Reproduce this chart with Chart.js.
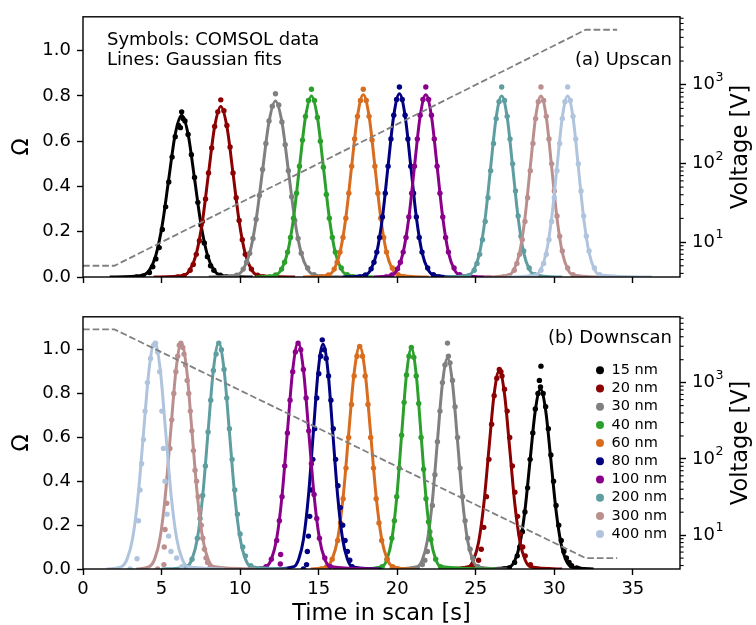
<!DOCTYPE html>
<html>
<head>
<meta charset="utf-8">
<title>Upscan / Downscan</title>
<script src="https://cdn.jsdelivr.net/npm/chart.js@4.4.1/dist/chart.umd.min.js"></script>
<style>
  html, body { margin: 0; padding: 0; background: #fff; }
  #fig { position: relative; width: 756px; height: 625px; }
  #fig canvas { position: absolute; left: 0; }
</style>
</head>
<body>
<div id="fig">
  <canvas id="upscan" width="756" height="300" style="top:0"></canvas>
  <canvas id="downscan" width="756" height="325" style="top:300px"></canvas>
</div>
<script>
// particle sizes and their colours
var sizes = ['15 nm', '20 nm', '30 nm', '40 nm', '60 nm', '80 nm', '100 nm', '200 nm', '300 nm', '400 nm'];
var colors = ['#000000', '#8b0000', '#808080', '#2ca02c', '#d96d1f', '#000080', '#8b008b', '#5f9ea0', '#bc8f8f', '#b0c4de'];

// tick values
var timeTicks = [0, 5, 10, 15, 20, 25, 30, 35];
var omegaTicks = [0, 0.2, 0.4, 0.6, 0.8, 1.0];
var voltTicks = [10, 100, 1000];
var voltExp = ['1', '2', '3'];
var voltMinor = [4, 5, 6, 7, 8, 9, 20, 30, 40, 50, 60, 70, 80, 90, 200, 300, 400, 500, 600, 700, 800, 900,
                 2000, 3000, 4000, 5000, 6000, 7000];

// voltage ramp (right axis)
var scanT = [0, 2, 32, 34];
var upVolt = [5, 5, 5000, 5000];
var downVolt = [5000, 5000, 5, 5];

// Gaussian fit lines, upscan (time / omega)
var upFitT = [
  [1.7, 3.82, 4.23, 4.64, 5.05, 5.46, 5.87, 6.28, 6.69, 7.1, 7.51, 7.92, 8.33, 8.74, 10.8],
  [4.5, 6.43, 6.82, 7.21, 7.6, 7.99, 8.38, 8.77, 9.16, 9.55, 9.94, 10.33, 10.72, 11.11, 13.5],
  [8, 9.79, 10.2, 10.61, 11.02, 11.43, 11.84, 12.25, 12.66, 13.07, 13.48, 13.89, 14.3, 14.71, 16.5],
  [11, 12.26, 12.64, 13.02, 13.4, 13.78, 14.16, 14.54, 14.92, 15.3, 15.68, 16.06, 16.44, 16.82, 18.5],
  [14, 15.62, 15.99, 16.36, 16.73, 17.1, 17.47, 17.84, 18.21, 18.58, 18.95, 19.32, 19.69, 20.06, 22],
  [16.5, 17.98, 18.34, 18.7, 19.06, 19.42, 19.78, 20.14, 20.5, 20.86, 21.22, 21.58, 21.94, 22.3, 24],
  [18.5, 19.66, 20.02, 20.38, 20.74, 21.1, 21.46, 21.82, 22.18, 22.54, 22.9, 23.26, 23.62, 23.98, 26],
  [23, 24.55, 24.9, 25.25, 25.6, 25.95, 26.3, 26.65, 27.0, 27.35, 27.7, 28.05, 28.4, 28.75, 30.5],
  [25.5, 27.11, 27.45, 27.79, 28.13, 28.47, 28.81, 29.15, 29.49, 29.83, 30.17, 30.51, 30.85, 31.19, 33],
  [27, 28.81, 29.15, 29.49, 29.83, 30.17, 30.51, 30.85, 31.19, 31.53, 31.87, 32.21, 32.55, 32.89, 36.2]
];
var upFitY = [
  [0, .008, .031, .097, .232, .434, .631, .715, .631, .434, .232, .097, .031, .008, 0],
  [0, .008, .033, .102, .245, .458, .665, .754, .665, .458, .245, .102, .033, .008, 0],
  [0, .009, .034, .105, .253, .472, .686, .778, .686, .472, .253, .105, .034, .009, 0],
  [0, .009, .035, .108, .26, .486, .706, .80, .706, .486, .26, .108, .035, .009, 0],
  [0, .009, .035, .109, .262, .489, .71, .805, .71, .489, .262, .109, .035, .009, 0],
  [0, .009, .036, .109, .263, .492, .714, .81, .714, .492, .263, .109, .036, .009, 0],
  [0, .009, .035, .109, .262, .489, .71, .805, .71, .489, .262, .109, .035, .009, 0],
  [0, .009, .035, .108, .26, .486, .706, .80, .706, .486, .26, .108, .035, .009, 0],
  [0, .009, .035, .108, .26, .486, .706, .80, .706, .486, .26, .108, .035, .009, 0],
  [0, .009, .035, .108, .26, .486, .706, .80, .706, .486, .26, .108, .035, .009, 0]
];

// COMSOL data symbols, upscan [time, omega]
var upDots = [
  [[3.41,0],[3.82,.005],[4.23,.02],[4.44,.045],[4.64,.08],[4.85,.13],[5.05,.21],[5.26,.31],[5.46,.42],[5.67,.53],[5.87,.62],[6.08,.67],[6.2,.66],[6.28,.73],[6.36,.70],[6.49,.69],[6.69,.63],[6.9,.54],[7.1,.44],[7.31,.33],[7.51,.23],[7.72,.15],[7.92,.09],[8.12,.05],[8.33,.03],[8.74,.008],[9.15,0]],
  [[6.04,0],[6.43,.006],[6.82,.03],[7.02,.055],[7.21,.1],[7.41,.16],[7.6,.245],[7.8,.345],[7.99,.46],[8.19,.57],[8.38,.665],[8.58,.73],[8.77,.783],[8.97,.735],[9.16,.67],[9.36,.575],[9.55,.46],[9.75,.35],[9.94,.25],[10.14,.165],[10.33,.1],[10.72,.035],[11.11,.008],[11.5,0]],
  [[9.38,0],[9.79,.008],[10.2,.035],[10.41,.065],[10.61,.105],[10.82,.17],[11.02,.255],[11.23,.36],[11.43,.475],[11.64,.59],[11.84,.69],[12.05,.755],[12.25,.81],[12.46,.76],[12.66,.685],[12.87,.585],[13.07,.47],[13.28,.355],[13.48,.25],[13.69,.17],[13.89,.105],[14.3,.04],[14.71,.01],[15.12,0]],
  [[11.88,0],[12.26,.009],[12.64,.035],[12.83,.065],[13.02,.11],[13.21,.175],[13.4,.26],[13.59,.37],[13.78,.49],[13.97,.605],[14.16,.71],[14.35,.78],[14.54,.83],[14.73,.78],[14.92,.705],[15.11,.6],[15.3,.485],[15.49,.365],[15.68,.26],[15.87,.175],[16.06,.11],[16.44,.04],[16.82,.01],[17.2,0]],
  [[15.25,0],[15.62,.009],[15.99,.035],[16.18,.065],[16.36,.11],[16.55,.175],[16.73,.26],[16.92,.37],[17.1,.49],[17.29,.61],[17.47,.71],[17.66,.78],[17.84,.83],[18.03,.78],[18.21,.71],[18.4,.605],[18.58,.49],[18.77,.37],[18.95,.26],[19.14,.175],[19.32,.11],[19.69,.04],[20.06,.01],[20.43,0]],
  [[17.62,0],[17.98,.009],[18.34,.036],[18.52,.065],[18.7,.11],[18.88,.175],[19.06,.265],[19.24,.37],[19.42,.49],[19.6,.61],[19.78,.715],[19.96,.785],[20.14,.84],[20.32,.785],[20.5,.715],[20.68,.61],[20.86,.49],[21.04,.37],[21.22,.265],[21.4,.175],[21.58,.11],[21.94,.04],[22.3,.01],[22.66,0]],
  [[19.3,0],[19.66,.009],[20.02,.036],[20.2,.065],[20.38,.11],[20.56,.175],[20.74,.265],[20.92,.37],[21.1,.49],[21.28,.61],[21.46,.715],[21.64,.785],[21.82,.84],[22.0,.785],[22.18,.715],[22.36,.61],[22.54,.49],[22.72,.37],[22.9,.265],[23.08,.175],[23.26,.11],[23.62,.04],[23.98,.01],[24.34,0]],
  [[24.2,0],[24.55,.006],[24.9,.03],[25.08,.06],[25.25,.1],[25.43,.165],[25.6,.245],[25.78,.35],[25.95,.47],[26.13,.59],[26.3,.7],[26.48,.775],[26.65,.84],[26.83,.78],[27.0,.71],[27.18,.61],[27.35,.5],[27.53,.38],[27.7,.27],[27.88,.18],[28.05,.115],[28.4,.04],[28.75,.01],[29.1,0]],
  [[26.77,0],[27.11,.006],[27.45,.03],[27.62,.06],[27.79,.1],[27.96,.165],[28.13,.245],[28.3,.35],[28.47,.47],[28.64,.59],[28.81,.7],[28.98,.775],[29.15,.84],[29.32,.78],[29.49,.71],[29.66,.61],[29.83,.5],[30.0,.38],[30.17,.27],[30.34,.18],[30.51,.115],[30.85,.04],[31.19,.01],[31.53,0]],
  [[28.47,0],[28.81,.006],[29.15,.03],[29.32,.06],[29.49,.1],[29.66,.165],[29.83,.245],[30.0,.35],[30.17,.47],[30.34,.59],[30.51,.7],[30.68,.775],[30.85,.84],[31.02,.78],[31.19,.71],[31.36,.61],[31.53,.5],[31.7,.38],[31.87,.27],[32.04,.18],[32.21,.115],[32.55,.04],[32.89,.01],[33.23,0]]
];

// Gaussian fit lines, downscan
var downFitT = [
  [25.5, 27.14, 27.47, 27.8, 28.13, 28.46, 28.79, 29.12, 29.45, 29.78, 30.11, 30.44, 30.77, 31.1, 32.5],
  [23, 24.52, 24.85, 25.18, 25.51, 25.84, 26.17, 26.5, 26.83, 27.16, 27.49, 27.82, 28.15, 28.48, 30.5],
  [19.5, 21.28, 21.6, 21.92, 22.24, 22.56, 22.88, 23.2, 23.52, 23.84, 24.16, 24.48, 24.8, 25.12, 27],
  [17.5, 19.04, 19.35, 19.66, 19.97, 20.28, 20.59, 20.9, 21.21, 21.52, 21.83, 22.14, 22.45, 22.76, 26.3],
  [14.5, 15.51, 15.86, 16.21, 16.56, 16.91, 17.26, 17.61, 17.96, 18.31, 18.66, 19.01, 19.36, 19.71, 21],
  [12, 13.42, 13.73, 14.04, 14.35, 14.66, 14.97, 15.28, 15.59, 15.9, 16.21, 16.52, 16.83, 17.14, 19],
  [10.5, 11.65, 11.99, 12.33, 12.67, 13.01, 13.35, 13.69, 14.03, 14.37, 14.71, 15.05, 15.39, 15.73, 18.8],
  [5, 6.6, 6.94, 7.28, 7.62, 7.96, 8.3, 8.64, 8.98, 9.32, 9.66, 10.0, 10.34, 10.68, 13],
  [3.4, 4.22, 4.56, 4.9, 5.24, 5.58, 5.92, 6.26, 6.6, 6.94, 7.28, 7.62, 7.96, 8.3, 11],
  [1.5, 2.46, 2.81, 3.16, 3.51, 3.86, 4.21, 4.56, 4.91, 5.26, 5.61, 5.96, 6.31, 6.66, 9]
];
var downFitY = [
  [0, .009, .036, .111, .267, .498, .723, .82, .723, .498, .267, .111, .036, .009, 0],
  [0, .01, .04, .122, .294, .549, .798, .905, .798, .549, .294, .122, .04, .01, 0],
  [0, .011, .042, .13, .312, .583, .847, .96, .847, .583, .312, .13, .042, .011, 0],
  [0, .011, .044, .136, .327, .61, .886, 1.005, .886, .61, .327, .136, .044, .011, 0],
  [0, .011, .045, .137, .33, .616, .895, 1.015, .895, .616, .33, .137, .045, .011, 0],
  [0, .011, .045, .138, .333, .622, .904, 1.025, .904, .622, .333, .138, .045, .011, 0],
  [0, .011, .045, .139, .335, .625, .908, 1.03, .908, .625, .335, .139, .045, .011, 0],
  [0, .011, .045, .139, .335, .625, .908, 1.03, .908, .625, .335, .139, .045, .011, 0],
  [0, .011, .045, .139, .335, .625, .908, 1.03, .908, .625, .335, .139, .045, .011, 0],
  [0, .011, .046, .14, .336, .628, .913, 1.035, .913, .628, .336, .14, .046, .011, 0]
];

// COMSOL data symbols, downscan [time, omega]
var downDots = [
  [[26.81,0],[27.14,.005],[27.47,.03],[27.64,.06],[27.8,.1],[27.97,.17],[28.13,.26],[28.3,.37],[28.46,.5],[28.63,.62],[28.79,.73],[28.96,.8],[29.05,.86],[29.12,.83],[29.15,.925],[29.29,.8],[29.45,.74],[29.62,.64],[29.78,.52],[29.95,.4],[30.11,.29],[30.28,.2],[30.44,.13],[30.61,.08],[30.77,.05],[30.94,.03],[31.1,.015],[31.43,.005],[31.6,0]],
  [[24.19,0],[24.52,.003],[24.85,.012],[25.18,.04],[25.35,.09],[25.51,.19],[25.68,.33],[25.84,.5],[26.01,.66],[26.17,.79],[26.34,.87],[26.5,.91],[26.6,.9],[26.67,.88],[26.83,.82],[27.0,.72],[27.16,.6],[27.33,.47],[27.49,.35],[27.66,.24],[27.82,.16],[27.99,.1],[28.15,.06],[28.48,.02],[28.81,0]],
  [[20.96,0],[21.28,.003],[21.6,.02],[21.76,.04],[21.92,.08],[22.08,.17],[22.24,.29],[22.4,.43],[22.56,.58],[22.72,.72],[22.88,.85],[23.04,.93],[23.2,1.03],[23.26,.97],[23.36,.94],[23.52,.86],[23.68,.74],[23.84,.6],[24.0,.46],[24.16,.33],[24.32,.22],[24.48,.14],[24.64,.09],[24.8,.05],[25.12,.012],[25.44,0]],
  [[18.73,0],[19.04,.01],[19.35,.045],[19.66,.14],[19.82,.22],[19.97,.33],[20.13,.46],[20.28,.61],[20.44,.76],[20.59,.885],[20.75,.97],[20.9,1.01],[21.06,.965],[21.21,.88],[21.37,.755],[21.52,.6],[21.68,.455],[21.83,.32],[21.99,.215],[22.14,.135],[22.45,.045],[22.76,.01],[23.07,0]],
  [[15.16,0],[15.51,.01],[15.86,.045],[16.21,.13],[16.39,.21],[16.56,.32],[16.74,.46],[16.91,.6],[17.09,.75],[17.26,.88],[17.44,.97],[17.61,1.015],[17.79,.97],[17.96,.88],[18.14,.75],[18.31,.6],[18.49,.46],[18.66,.32],[18.84,.21],[19.01,.13],[19.36,.045],[19.71,.01],[20.06,0]],
  [[14.03,0],[14.23,.02],[14.28,.08],[14.35,.15],[14.43,.24],[14.53,.36],[14.63,.5],[14.75,.64],[14.88,.78],[15.01,.89],[15.13,.97],[15.23,1.045],[15.35,1.0],[15.48,.96],[15.63,.88],[15.78,.77],[15.93,.64],[16.08,.5],[16.23,.38],[16.38,.28],[16.53,.2],[16.68,.13],[16.83,.08],[16.98,.04],[17.13,.01],[17.43,0]],
  [[11.31,0],[11.65,.01],[11.99,.045],[12.33,.13],[12.5,.22],[12.56,.023],[12.58,.066],[12.67,.33],[12.84,.47],[13.01,.62],[13.18,.77],[13.35,.9],[13.52,.99],[13.69,1.03],[13.86,1.0],[14.03,.91],[14.2,.78],[14.37,.63],[14.54,.48],[14.71,.34],[14.88,.23],[15.05,.14],[15.39,.05],[15.73,.012],[16.07,0]],
  [[6.26,0],[6.6,.01],[6.94,.045],[7.28,.14],[7.45,.23],[7.62,.335],[7.79,.47],[7.96,.625],[8.13,.77],[8.3,.905],[8.47,.98],[8.64,1.03],[8.81,1.0],[8.98,.91],[9.15,.78],[9.32,.64],[9.49,.5],[9.66,.36],[9.83,.25],[10.0,.16],[10.17,.1],[10.34,.06],[10.68,.015],[11.02,0]],
  [[4.75,0],[5.15,.02],[5.17,.1],[5.22,.18],[5.33,.3],[5.43,.42],[5.53,.55],[5.65,.68],[5.78,.8],[5.91,.9],[6.03,.97],[6.13,1.02],[6.23,1.03],[6.35,1.01],[6.43,.98],[6.53,.93],[6.63,.86],[6.73,.8],[6.83,.72],[6.93,.63],[7.03,.54],[7.13,.45],[7.23,.4],[7.33,.33],[7.43,.27],[7.53,.2],[7.63,.14],[7.73,.09],[7.83,.05],[7.93,.03],[8.1,.01],[8.4,0]],
  [[3.0,0],[3.44,.047],[3.53,.22],[3.63,.36],[3.73,.48],[3.85,.59],[3.95,.72],[4.1,.85],[4.3,.96],[4.5,1.02],[4.62,1.03],[4.75,.99],[4.88,.9],[5.02,.72],[5.12,.55],[5.22,.4],[5.35,.25],[5.45,.15],[5.6,.08],[5.96,.05],[6.3,.01],[6.8,0]]
];

Chart.defaults.font.family = '"DejaVu Sans", sans-serif';
Chart.defaults.color = '#000';

var FONT = '"DejaVu Sans", sans-serif';

function pairs(ts, ys) {
    return ts.map(function(t, j) { return { x: t, y: ys[j] }; });
}

function buildDatasets(fitT, fitY, dots, volt) {
    var sets = [{
        data: pairs(scanT, volt),
        yAxisID: 'v',
        borderColor: '#808080',
        borderWidth: 1.8,
        borderDash: [6.7, 2.9],
        pointRadius: 0,
        fill: false,
        order: 0
    }];
    sizes.forEach(function(s, i) {
        sets.push({
            label: s,
            data: pairs(fitT[i], fitY[i]),
            yAxisID: 'y',
            borderColor: colors[i],
            borderWidth: 3,
            borderJoinStyle: 'round',
            pointRadius: 0,
            cubicInterpolationMode: 'monotone',
            fill: false,
            order: 1 + (9 - i) * 2
        });
        sets.push({
            data: dots[i].map(function(p) { return { x: p[0], y: p[1] }; }),
            yAxisID: 'y',
            showLine: false,
            pointRadius: 2.7,
            pointBorderWidth: 0,
            pointBackgroundColor: colors[i],
            order: 2 + (9 - i) * 2
        });
    });
    return sets;
}

function tickGrid() {
    return { drawOnChartArea: false, drawTicks: true, tickLength: 6, tickWidth: 1.4, tickColor: '#000' };
}

function buildScales(showTimeLabels, xHeight) {
    return {
        x: {
            type: 'linear', min: 0, max: 38,
            afterBuildTicks: function(s) { s.ticks = timeTicks.map(function(v) { return { value: v }; }); },
            afterFit: function(s) { s.height = xHeight; },
            grid: tickGrid(),
            border: { display: false },
            ticks: { display: showTimeLabels, font: { size: 18 }, padding: 4, maxRotation: 0, autoSkip: false }
        },
        y: {
            type: 'linear', position: 'left', min: 0, max: 1.15,
            afterBuildTicks: function(s) { s.ticks = omegaTicks.map(function(v) { return { value: v }; }); },
            afterFit: function(s) { s.width = 83; },
            grid: tickGrid(),
            border: { display: false },
            ticks: { font: { size: 18 }, padding: 6, callback: function(v) { return v.toFixed(1); } }
        },
        v: {
            type: 'logarithmic', position: 'right', min: 3.6, max: 7300,
            afterBuildTicks: function(s) { s.ticks = voltTicks.map(function(v) { return { value: v }; }); },
            afterFit: function(s) { s.width = 76; },
            grid: tickGrid(),
            border: { display: false },
            ticks: { display: false }
        }
    };
}

// frame, minor ticks, 10^n labels, axis titles, notes and legend
function decoPlugin(opts) {
    return {
        id: 'deco',
        afterDatasetsDraw: function(chart) {
            var ctx = chart.ctx, a = chart.chartArea, v = chart.scales.v;
            var midY = (a.top + a.bottom) / 2;
            ctx.save();
            ctx.strokeStyle = '#000';
            ctx.lineWidth = 1.4;
            ctx.strokeRect(a.left, a.top, a.right - a.left, a.bottom - a.top);

            ctx.lineWidth = 1.1;
            voltMinor.forEach(function(m) {
                var y = v.getPixelForValue(m);
                if (y < a.top || y > a.bottom) return;
                ctx.beginPath();
                ctx.moveTo(a.right, y);
                ctx.lineTo(a.right + 3.6, y);
                ctx.stroke();
            });

            ctx.fillStyle = '#000';
            ctx.textBaseline = 'middle';
            ctx.textAlign = 'left';
            voltTicks.forEach(function(val, i) {
                var y = v.getPixelForValue(val);
                ctx.font = '18px ' + FONT;
                ctx.fillText('10', a.right + 12, y);
                var w = ctx.measureText('10').width;
                ctx.font = '12.6px ' + FONT;
                ctx.fillText(voltExp[i], a.right + 12 + w + 0.5, y - 7);
            });

            ctx.font = '22.5px ' + FONT;
            ctx.textAlign = 'center';
            ctx.save();
            ctx.translate(22, midY);
            ctx.rotate(-Math.PI / 2);
            ctx.fillText('\u03a9', 0, 0);
            ctx.restore();
            ctx.save();
            ctx.translate(741, midY);
            ctx.rotate(-Math.PI / 2);
            ctx.fillText('Voltage [V]', 0, 0);
            ctx.restore();

            if (opts.timeTitle) {
                ctx.textBaseline = 'alphabetic';
                ctx.fillText('Time in scan [s]', (a.left + a.right) / 2, 320);
            }

            ctx.font = '18px ' + FONT;
            ctx.textBaseline = 'alphabetic';
            ctx.textAlign = 'left';
            (opts.notes || []).forEach(function(n) {
                ctx.fillText(n[0], a.left + n[1], a.top + n[2]);
            });
            ctx.textAlign = 'right';
            ctx.fillText(opts.panel, a.right - 8, a.top + opts.panelY);

            if (opts.legend) {
                ctx.textAlign = 'left';
                ctx.textBaseline = 'middle';
                ctx.font = '14.5px ' + FONT;
                sizes.forEach(function(s, i) {
                    var y = a.top + 53.5 + i * 18.2;
                    ctx.beginPath();
                    ctx.arc(a.right - 80, y, 4, 0, Math.PI * 2);
                    ctx.fillStyle = colors[i];
                    ctx.fill();
                    ctx.fillStyle = '#000';
                    ctx.fillText(s, a.right - 68.5, y);
                });
            }
            ctx.restore();
        }
    };
}

function makeChart(id, datasets, topPad, xHeight, showTime, deco) {
    return new Chart(document.getElementById(id), {
        type: 'line',
        data: { datasets: datasets },
        options: {
            responsive: false,
            animation: false,
            layout: { padding: { top: topPad, left: 0, right: 0, bottom: 0 } },
            plugins: { legend: { display: false }, tooltip: { enabled: false } },
            scales: buildScales(showTime, xHeight)
        },
        plugins: [decoPlugin(deco)]
    });
}

makeChart('upscan', buildDatasets(upFitT, upFitY, upDots, upVolt), 15, 23, false, {
    panel: '(a) Upscan', panelY: 48,
    notes: [['Symbols: COMSOL data', 24, 28], ['Lines: Gaussian fits', 24, 48]]
});
makeChart('downscan', buildDatasets(downFitT, downFitY, downDots, downVolt), 7, 56, true, {
    panel: '(b) Downscan', panelY: 26.5, legend: true, timeTitle: true
});
</script>
</body>
</html>
